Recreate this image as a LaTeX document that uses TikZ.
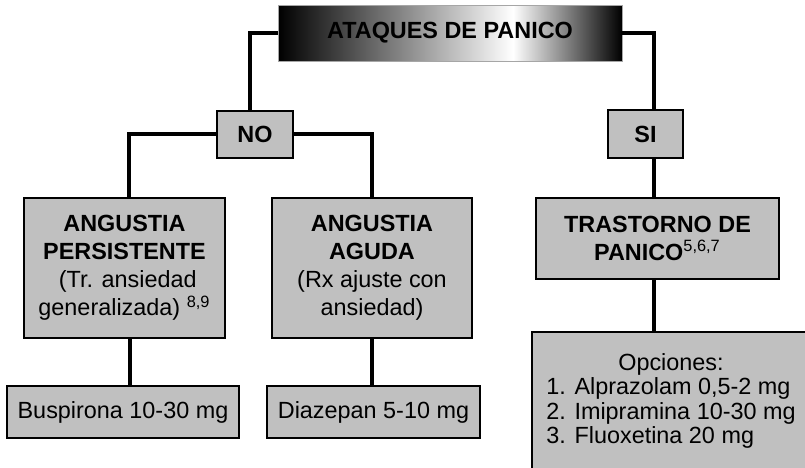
\documentclass[tikz,border=0pt]{standalone}
\usepackage{fontspec}
\setmainfont{Liberation Sans}
\usetikzlibrary{calc}
\definecolor{boxgray}{HTML}{C0C0C0}
\begin{document}
\begin{tikzpicture}[x=0.5pt, y=-0.5pt, font=\fontsize{11.7}{14}\selectfont,
	box/.style={draw, line width=1pt, fill=boxgray, align=center, inner sep=0pt},
	link/.style={line width=1.6pt}]
	\useasboundingbox (0,0) rectangle (805,467);
	\clip (0,0) rectangle (805,467);
	% titulo con degradado
	\node[draw=gray!70, thin, minimum width=172pt, minimum height=28pt, inner sep=0pt, font=\fontsize{11.7}{14}\selectfont\bfseries,
		path picture={
			\coordinate (pw) at (path picture bounding box.south west);
			\coordinate (pe) at (path picture bounding box.north east);
			\coordinate (pm) at ($(pw)!0.683!(pe)$);
			\shade[left color=black, right color=white] (pw) rectangle (pm |- pe);
			\shade[left color=white, right color=black] (pm |- pw) rectangle (pe);
		}] (titulo) at (450,33) {ATAQUES DE PANICO};
	\node[box, minimum width=38pt, minimum height=23.5pt, font=\fontsize{11.7}{14}\selectfont\bfseries] (no) at (255,134) {NO};
	\node[box, minimum width=37.5pt, minimum height=24pt, font=\fontsize{11.7}{14}\selectfont\bfseries] (si) at (645.5,134) {SI};
	\node[box, minimum width=100.5pt, minimum height=70pt] (persist) at (124.5,268)
		{\textbf{ANGUSTIA}\\\textbf{PERSISTENTE}\\\ (Tr. ansiedad\\generalizada) \textsuperscript{8,9}};
	\node[box, minimum width=100pt, minimum height=70pt] (aguda) at (372,268)
		{\textbf{ANGUSTIA}\\\textbf{AGUDA}\\(Rx ajuste con\\ansiedad)};
	\node[box, minimum width=121.5pt, minimum height=40.5pt] (trast) at (657.5,238.5)
		{\textbf{TRASTORNO DE}\\\textbf{PANICO}\textsuperscript{5,6,7}};
	\node[box, minimum width=116pt, minimum height=26pt] (buspi) at (123,412) {Buspirona 10-30 mg};
	\node[box, minimum width=106.5pt, minimum height=26pt] (diaz) at (373.5,412) {Diazepan 5-10 mg};
	\node[box, minimum width=139pt, minimum height=70pt, font=\fontsize{11.7}{12.3}\selectfont] (opc) at (671,402)
		{\begin{tabular}{@{}l@{}}\multicolumn{1}{@{}c@{}}{Opciones:}\\1. Alprazolam 0,5-2 mg\\2. Imipramina 10-30 mg\\3. Fluoxetina 20 mg\end{tabular}};
	% conectores
	\draw[link] (titulo.west) -| ([xshift=-2.5pt]no.north);
	\draw[link] (titulo.east) -| ([xshift=4.25pt]si.north);
	\draw[link] (no.west) -| ([xshift=2.25pt]persist.north);
	\draw[link] (no.east) -| (aguda.north);
	\draw[link] ([xshift=4.25pt]si.south) -- ([xshift=4.25pt]si.south |- trast.north);
	\draw[link] ([xshift=2.75pt]persist.south) -- ([xshift=2.75pt]persist.south |- buspi.north);
	\draw[link] (aguda.south) -- (aguda.south |- diaz.north);
	\draw[link] ([xshift=-1.75pt]trast.south) -- ([xshift=-1.75pt]trast.south |- opc.north);
\end{tikzpicture}
\end{document}
